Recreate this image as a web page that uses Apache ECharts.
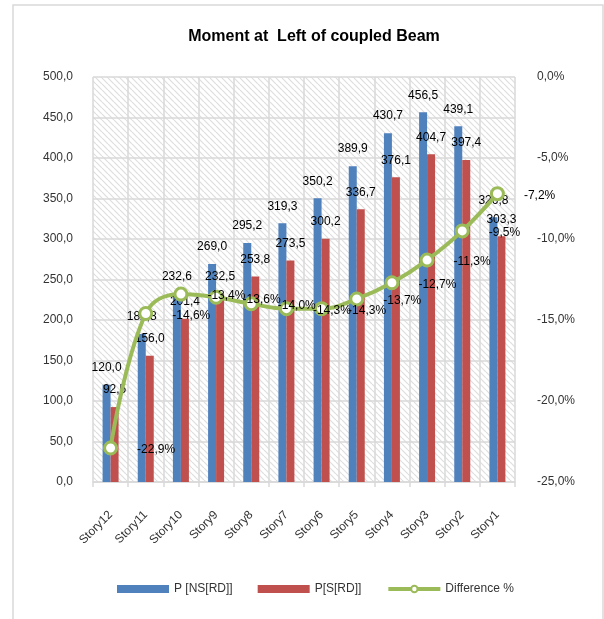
<!DOCTYPE html>
<html>
<head>
<meta charset="utf-8">
<script src="https://cdn.jsdelivr.net/npm/echarts@6/dist/echarts.min.js"></script>
<style>
  html, body { margin: 0; padding: 0; background: #fff; }
  #chart { width: 604px; height: 619px; }
</style>
</head>
<body>
<div id="chart"></div>
<script>
// data
const stories = ['Story12', 'Story11', 'Story10', 'Story9', 'Story8', 'Story7',
                 'Story6', 'Story5', 'Story4', 'Story3', 'Story2', 'Story1'];
const pNS = [120.0, 182.8, 232.6, 269.0, 295.2, 319.3, 350.2, 389.9, 430.7, 456.5, 439.1, 326.8];
const pS = [92.5, 156.0, 201.4, 232.5, 253.8, 273.5, 300.2, 336.7, 376.1, 404.7, 397.4, 303.3];
const diff = [-22.9, -14.6, -13.4, -13.6, -14.0, -14.3, -14.3, -13.7, -12.7, -11.3, -9.5, -7.2];

const font = "'Liberation Sans', Arial, sans-serif";
const comma = v => v.toFixed(1).replace('.', ',');

// hatched plot background
function hatch() {
  const s = 6;
  const c = document.createElement('canvas');
  c.width = s; c.height = s;
  const ctx = c.getContext('2d');
  ctx.fillStyle = '#fff';
  ctx.fillRect(0, 0, s, s);
  ctx.strokeStyle = '#dedede';
  ctx.lineWidth = 1.2;
  for (let k = -1; k <= 1; k++) {
    ctx.beginPath();
    ctx.moveTo(k * s, 0);
    ctx.lineTo(k * s + s, s);
    ctx.stroke();
  }
  return c;
}

let myChart = echarts.init(document.getElementById('chart'));
let option = {
  animation: false,
  textStyle: { fontFamily: font },
  title: {
    text: 'Moment at  Left of coupled Beam',
    left: 309,
    top: 24,
    textAlign: 'center',
    textStyle: { fontSize: 16, fontWeight: 'bold', color: '#000', fontFamily: font }
  },
  graphic: [{
    type: 'rect',
    shape: { x: 13, y: 5, width: 590, height: 630 },
    style: { fill: 'none', stroke: '#d9d9d9', lineWidth: 1.5 },
    silent: true
  }],
  legend: {
    left: 117,
    top: 583,
    padding: 0,
    itemWidth: 52,
    itemHeight: 8,
    itemGap: 25,
    textStyle: { fontSize: 12, color: '#333', fontFamily: font },
    data: [
      { name: 'P [NS[RD]]', icon: 'rect' },
      { name: 'P[S[RD]]', icon: 'rect' },
      { name: 'Difference %', lineStyle: { width: 4 } }
    ]
  },
  grid: {
    left: 93,
    right: 89,
    top: 77,
    bottom: 137,
    show: true,
    borderWidth: 0,
    backgroundColor: { image: hatch(), repeat: 'repeat' }
  },
  xAxis: {
    type: 'category',
    data: stories,
    axisLine: { lineStyle: { color: '#d9d9d9', width: 1.5 } },
    axisTick: { show: true, length: 5, lineStyle: { color: '#d9d9d9', width: 1.5 } },
    axisLabel: { rotate: 45, margin: 31, fontSize: 12, color: '#333' },
    splitLine: { show: true, lineStyle: { color: '#d9d9d9', width: 1.5 } }
  },
  yAxis: [{
    type: 'value',
    min: 0,
    max: 500,
    interval: 50,
    axisLine: { show: false },
    axisTick: { show: false },
    axisLabel: { margin: 20, fontSize: 12, color: '#333', formatter: v => comma(v) },
    splitLine: { lineStyle: { color: '#d9d9d9', width: 1.5 } }
  }, {
    type: 'value',
    min: -25,
    max: 0,
    interval: 5,
    position: 'right',
    axisLine: { show: false },
    axisTick: { show: false },
    axisLabel: { margin: 22, fontSize: 12, color: '#333', formatter: v => comma(v) + '%' },
    splitLine: { show: false }
  }],
  series: [
    {
      name: 'P [NS[RD]]',
      type: 'bar',
      data: pNS,
      barWidth: 8,
      barGap: '0%',
      itemStyle: { color: '#4f81bd' },
      label: { show: true, position: 'top', distance: 11, fontSize: 12, color: '#000',
               formatter: p => comma(p.value) }
    },
    {
      name: 'P[S[RD]]',
      type: 'bar',
      data: pS,
      barWidth: 8,
      barGap: '0%',
      itemStyle: { color: '#c0504d' },
      label: { show: true, position: 'top', distance: 11, fontSize: 12, color: '#000',
               formatter: p => comma(p.value) }
    },
    {
      name: 'Difference %',
      type: 'line',
      yAxisIndex: 1,
      data: diff,
      smooth: 0.4,
      symbol: 'circle',
      symbolSize: 12,
      lineStyle: { color: '#9bbb59', width: 4 },
      itemStyle: { color: '#fff', borderColor: '#9bbb59', borderWidth: 3 },
      label: { show: true, position: 'right', distance: 19, offset: [0, 2], fontSize: 12, color: '#000',
               formatter: p => comma(p.value) + '%' },
      z: 5
    }
  ]
};
myChart.setOption(option);
</script>
</body>
</html>
